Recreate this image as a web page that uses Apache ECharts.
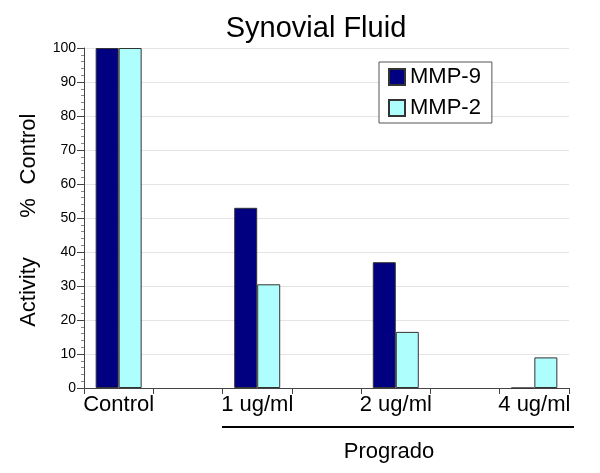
<!DOCTYPE html>
<html>
<head>
<meta charset="utf-8">
<script src="https://cdn.jsdelivr.net/npm/echarts@6/dist/echarts.min.js"></script>
<style>html,body{margin:0;padding:0;background:#fff;}#c{width:600px;height:473px;}</style>
</head>
<body>
<div id="c"></div>
<script>
var categories = ['Control', '', '1 ug/ml', '', '2 ug/ml', '', '4 ug/ml'];
var mmp9 = [100, null, 53, null, 37, null, 0];
var mmp2 = [100, null, 30.5, null, 16.5, null, 9];
var seriesNames = ['MMP-9', 'MMP-2'];
var yTicks = [0, 10, 20, 30, 40, 50, 60, 70, 80, 90, 100];
var titleText = 'Synovial Fluid';
var yNameParts = ['Activity', '%', 'Control'];
var groupLabel = 'Prograd o'.replace(' ', '');

var FF = "'Liberation Sans', Arial, Helvetica, sans-serif";
var chart = echarts.init(document.getElementById('c'), null, {renderer: 'canvas'});
var option = {
  backgroundColor: '#fff',
  animation: false,
  textStyle: {fontFamily: FF},
  grid: {left: 84, right: 31, top: 48, bottom: 85, containLabel: false},
  legend: {
    orient: 'vertical',
    left: 379, top: 62,
    padding: [4, 11, 4, 9],
    itemGap: 9,
    itemWidth: 16, itemHeight: 16,
    borderColor: '#555', borderWidth: 1,
    backgroundColor: '#fff',
    icon: 'rect',
    textStyle: {fontSize: 22, color: '#000', fontFamily: FF, lineHeight: 22},
    data: seriesNames
  },
  xAxis: {
    type: 'category',
    data: categories,
    axisLine: {lineStyle: {color: '#444', width: 1}},
    axisTick: {show: true, length: 6, lineStyle: {color: '#444'}, alignWithLabel: false, interval: 0},
    axisLabel: {fontSize: 22, color: '#000', margin: 6, interval: 0, fontFamily: FF},
    splitLine: {show: false}
  },
  yAxis: {
    type: 'value',
    min: yTicks[0], max: yTicks[yTicks.length - 1], interval: 10,
    axisLine: {show: true, lineStyle: {color: '#444', width: 1}},
    axisTick: {show: true, length: 7, lineStyle: {color: '#444'}},
    minorTick: {show: true, splitNumber: 5, length: 3, lineStyle: {color: '#888'}},
    axisLabel: {fontSize: 14, color: '#000', margin: 8, fontFamily: FF},
    splitLine: {show: true, lineStyle: {color: '#e4e4e4', width: 1}}
  },
  series: [
    {
      name: seriesNames[0], type: 'bar', data: mmp9,
      barWidth: 23, barGap: '0%',
      itemStyle: {color: '#000080', borderColor: '#333', borderWidth: 1}
    },
    {
      name: seriesNames[1], type: 'bar', data: mmp2,
      barWidth: 23, barGap: '0%',
      itemStyle: {color: '#aefefe', borderColor: '#333', borderWidth: 1}
    }
  ],
  graphic: [
    {type: 'text', x: 316, y: 29,
     style: {text: titleText, fontSize: 29, fontFamily: FF, fill: '#000', textAlign: 'center', textVerticalAlign: 'middle'}},
    {type: 'text', x: 29, y: 292, rotation: Math.PI / 2,
     style: {text: yNameParts[0], fontSize: 22, fontFamily: FF, fill: '#000', textAlign: 'center', textVerticalAlign: 'middle'}},
    {type: 'text', x: 29, y: 208, rotation: Math.PI / 2,
     style: {text: yNameParts[1], fontSize: 22, fontFamily: FF, fill: '#000', textAlign: 'center', textVerticalAlign: 'middle'}},
    {type: 'text', x: 29, y: 149, rotation: Math.PI / 2,
     style: {text: yNameParts[2], fontSize: 22, fontFamily: FF, fill: '#000', textAlign: 'center', textVerticalAlign: 'middle'}},
    {type: 'line', shape: {x1: 222, y1: 427, x2: 574, y2: 427},
     style: {stroke: '#000', lineWidth: 2}},
    {type: 'text', x: 389, y: 452,
     style: {text: groupLabel, fontSize: 22, fontFamily: FF, fill: '#000', textAlign: 'center', textVerticalAlign: 'middle'}}
  ]
};
chart.setOption(option);
</script>
</body>
</html>
